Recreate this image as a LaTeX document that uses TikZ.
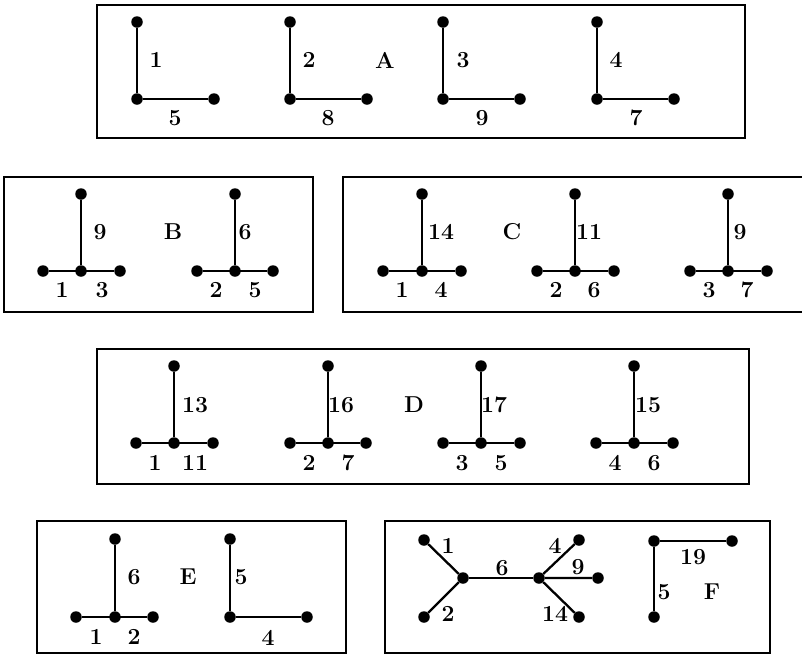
\documentclass[tikz,border=0pt]{standalone}
\usepackage{fontspec}
\usepackage{tikz}
\usetikzlibrary{positioning}
\tikzset{
  dot/.style={circle,fill=black,inner sep=0pt,minimum size=11.5pt},
  lbl/.style={inner sep=0pt,font=\fontsize{23}{27}\selectfont\bfseries},
  tag/.style={inner sep=0pt,font=\fontsize{23}{27}\selectfont\bfseries},
  panel/.style={draw=black,line width=1.8pt},
  edge/.style={draw=black,line width=2.3pt}
}
\begin{document}
\begin{tikzpicture}[x=1pt,y=-1pt]
\useasboundingbox (0,0) rectangle (802,657);
\clip (0,0) rectangle (802,657);
% panels
\draw[panel] (97,5) rectangle (745,138);
\draw[panel] (4,177) rectangle (313,312);
\draw[panel] (343,177) rectangle (806,312);
\draw[panel] (97,349) rectangle (749,484);
\draw[panel] (37,521) rectangle (346,653);
\draw[panel] (385,521) rectangle (770,653);

% A
\node[dot] (a1t) at (137,22) {};
\node[dot] (a1c) at (137,99) {};
\node[dot] (a1r) at (214,99) {};
\node[dot] (a2t) at (290,22) {};
\node[dot] (a2c) at (290,99) {};
\node[dot] (a2r) at (367,99) {};
\node[dot] (a3t) at (443,22) {};
\node[dot] (a3c) at (443,99) {};
\node[dot] (a3r) at (520,99) {};
\node[dot] (a4t) at (597,22) {};
\node[dot] (a4c) at (597,99) {};
\node[dot] (a4r) at (674,99) {};
\foreach \g in {a1,a2,a3,a4}{
  \draw[edge] (\g t)--(\g c)--(\g r);
}
\node[lbl] at (156,60) {1};
\node[lbl] at (175,118) {5};
\node[lbl] at (309,60) {2};
\node[lbl] at (328,118) {8};
\node[lbl] at (463,60) {3};
\node[lbl] at (482,118) {9};
\node[lbl] at (616,60) {4};
\node[lbl] at (636,118) {7};
\node[tag] (tA) at (385,60) {A};

% B
\node[dot] (b1t) at (81,194) {};
\node[dot] (b1c) at (81,271) {};
\node[dot] (b1l) at (43,271) {};
\node[dot] (b1r) at (120,271) {};
\node[dot] (b2t) at (235,194) {};
\node[dot] (b2c) at (235,271) {};
\node[dot] (b2l) at (197,271) {};
\node[dot] (b2r) at (273,271) {};
\node[lbl] at (100,232) {9};
\node[lbl] at (62,290) {1};
\node[lbl] at (102,290) {3};
\node[lbl] at (245,232) {6};
\node[lbl] at (216,290) {2};
\node[lbl] at (255,290) {5};
\node[tag] (tB) at (173,232) {B};

% C
\node[dot] (c1t) at (422,194) {};
\node[dot] (c1c) at (422,271) {};
\node[dot] (c1l) at (383,271) {};
\node[dot] (c1r) at (461,271) {};
\node[dot] (c2t) at (575,194) {};
\node[dot] (c2c) at (575,271) {};
\node[dot] (c2l) at (537,271) {};
\node[dot] (c2r) at (614,271) {};
\node[dot] (c3t) at (728,194) {};
\node[dot] (c3c) at (728,271) {};
\node[dot] (c3l) at (690,271) {};
\node[dot] (c3r) at (767,271) {};
\node[lbl] at (441,232) {14};
\node[lbl] at (402,290) {1};
\node[lbl] at (441,290) {4};
\node[lbl] at (589,232) {11};
\node[lbl] at (556,290) {2};
\node[lbl] at (594,290) {6};
\node[lbl] at (740,232) {9};
\node[lbl] at (709,290) {3};
\node[lbl] at (747,290) {7};
\node[tag] (tC) at (512,232) {C};

% D
\node[dot] (d1t) at (174,366) {};
\node[dot] (d1c) at (174,443) {};
\node[dot] (d1l) at (136,443) {};
\node[dot] (d1r) at (213,443) {};
\node[dot] (d2t) at (328,366) {};
\node[dot] (d2c) at (328,443) {};
\node[dot] (d2l) at (290,443) {};
\node[dot] (d2r) at (366,443) {};
\node[dot] (d3t) at (481,366) {};
\node[dot] (d3c) at (481,443) {};
\node[dot] (d3l) at (443,443) {};
\node[dot] (d3r) at (520,443) {};
\node[dot] (d4t) at (634,366) {};
\node[dot] (d4c) at (634,443) {};
\node[dot] (d4l) at (596,443) {};
\node[dot] (d4r) at (673,443) {};
\foreach \g in {b1,b2,c1,c2,c3,d1,d2,d3,d4}{
  \draw[edge] (\g t)--(\g c);
  \draw[edge] (\g l)--(\g r);
}
\node[lbl] at (195,405) {13};
\node[lbl] at (155,463) {1};
\node[lbl] at (195,463) {11};
\node[lbl] at (341,405) {16};
\node[lbl] at (309,463) {2};
\node[lbl] at (348,463) {7};
\node[lbl] at (494,405) {17};
\node[lbl] at (462,463) {3};
\node[lbl] at (501,463) {5};
\node[lbl] at (648,405) {15};
\node[lbl] at (615,463) {4};
\node[lbl] at (654,463) {6};
\node[tag] (tD) at (414,405) {D};

% E
\node[dot] (e1t) at (115,539) {};
\node[dot] (e1c) at (115,617) {};
\node[dot] (e1l) at (76,617) {};
\node[dot] (e1r) at (153,617) {};
\node[dot] (e2t) at (230,539) {};
\node[dot] (e2c) at (230,617) {};
\node[dot] (e2r) at (307,617) {};
\draw[edge] (e1t)--(e1c);
\draw[edge] (e1l)--(e1r);
\draw[edge] (e2t)--(e2c)--(e2r);
\node[lbl] at (134,577) {6};
\node[lbl] at (96,637) {1};
\node[lbl] at (134,637) {2};
\node[lbl] at (241,577) {5};
\node[lbl] at (268,638) {4};
\node[tag] (tE) at (188,577) {E};

% F
\node[dot] (f1a) at (424,540) {};
\node[dot] (f1b) at (424,617) {};
\node[dot] (f1c) at (463,578) {};
\node[dot] (f1d) at (539,578) {};
\node[dot] (f1e) at (579,540) {};
\node[dot] (f1f) at (598,578) {};
\node[dot] (f1g) at (579,617) {};
\draw[edge] (f1a)--(f1c)--(f1b);
\draw[edge] (f1c)--(f1d);
\draw[edge] (f1e)--(f1d)--(f1f);
\draw[edge] (f1d)--(f1g);
\node[lbl] at (448,546) {1};
\node[lbl] at (448,614) {2};
\node[lbl] at (502,568) {6};
\node[lbl] at (555,546) {4};
\node[lbl] at (578,567) {9};
\node[lbl] at (555,614) {14};
\node[dot] (f2t) at (654,541) {};
\node[dot] (f2r) at (732,541) {};
\node[dot] (f2b) at (654,617) {};
\draw[edge] (f2r)--(f2t)--(f2b);
\node[lbl] at (693,557) {19};
\node[lbl] at (664,592) {5};
\node[tag] (tF) at (712,592) {F};
\end{tikzpicture}
\end{document}
